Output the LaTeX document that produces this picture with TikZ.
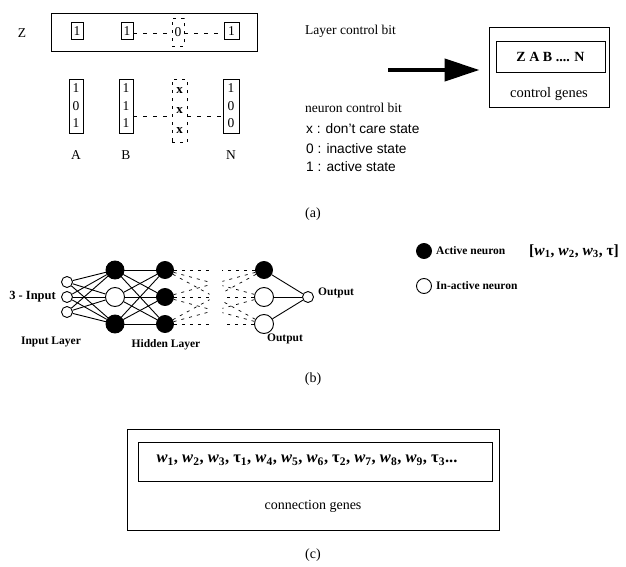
\documentclass[tikz,border=0pt]{standalone}
\usepackage{fontspec}
\setmainfont{Liberation Serif}
\setsansfont{Liberation Sans}
\usetikzlibrary{arrows.meta,calc,backgrounds}
\newcommand\wsym[1]{\textit{w}\textsubscript{#1}}
\newcommand\tsym[1]{τ\textsubscript{#1}}
\begin{document}
\begin{tikzpicture}[x=1pt,y=-1pt,
  lw/.style={line width=0.9pt},
  bitbox/.style={draw,lw,minimum width=12pt,minimum height=17pt,inner sep=0pt,font=\fontsize{13.5}{13.5}\selectfont},
  dbitbox/.style={bitbox,dash pattern=on 3pt off 5pt},
  colbox/.style={draw,lw,minimum width=14pt,minimum height=54pt,inner sep=0pt,align=center,font=\fontsize{13.5}{17.5}\selectfont},
  dcolbox/.style={colbox,dash pattern=on 3pt off 5pt,font=\bfseries\fontsize{13}{20}\selectfont},
  serlbl/.style={font=\fontsize{13.5}{13.5}\selectfont,inner sep=0pt},
  sanslbl/.style={font=\sffamily\fontsize{13.7}{13.7}\selectfont,inner sep=0pt,anchor=west},
  smallbold/.style={font=\bfseries\fontsize{11.5}{11.5}\selectfont,inner sep=0pt},
  dline/.style={lw,dash pattern=on 4pt off 6pt},
  actn/.style={circle,draw,lw,fill=black,inner sep=0pt},
  inactn/.style={circle,draw,lw,fill=white,inner sep=0pt},
  netedge/.style={line width=0.9pt},
  fanline/.style={line width=0.7pt,dash pattern=on 3pt off 5pt},
  bigbox/.style={draw,lw,inner sep=0pt},
  captxt/.style={font=\fontsize{14}{14}\selectfont,inner sep=0pt}
]
\useasboundingbox (0,0) rectangle (626,567);

% ---------- (a) ----------
\node[serlbl] (zl) at (22,33) {Z};
\node[bigbox,minimum width=206pt,minimum height=38pt] (zrow) at (154.5,32.5) {};
\node[bitbox] (z1) at (77,31) {1};
\node[bitbox] (z2) at (127,31) {1};
\node[dbitbox,minimum height=28pt] (z3) at (178,32.5) {0};
\node[bitbox,minimum width=15pt] (z4) at (231.5,31) {1};
\draw[dline] (z2.east |- 0,33) -- (z3.west |- 0,33);
\draw[dline] (z3.east |- 0,33) -- (z4.west |- 0,33);

\node[colbox] (ca) at (76,106) {1\\0\\1};
\node[colbox] (cb) at (126,106) {1\\1\\1};
\node[dcolbox,minimum width=15pt,minimum height=63pt] (cx) at (179.5,111) {x\\x\\x};
\node[colbox,minimum width=16pt] (cn) at (231,106) {1\\0\\0};
\draw[dline] (cb.east |- 0,116) -- (cx.west |- 0,116);
\draw[dline] (cx.east |- 0,116) -- (cn.west |- 0,116);
\node[serlbl] (la) at (76,155) {A};
\node[serlbl] (lb) at (126,155) {B};
\node[serlbl] (ln) at (231,155) {N};

\node[serlbl,anchor=west] (lcb) at (305,31) {Layer control bit};
\node[serlbl,anchor=west] (ncb) at (305,108) {neuron control bit};
\node[sanslbl] (s1) at (306,129) {x : don't care state};
\node[sanslbl] (s2) at (306,149) {0 : inactive state};
\node[sanslbl] (s3) at (306,167) {1 : active state};

\node[bigbox,minimum width=120pt,minimum height=80pt] (cg) at (549,67) {};
\node[bigbox,minimum width=109pt,minimum height=31pt,font=\bfseries\fontsize{14}{14}\selectfont] (cgi) at (550.5,56.5) {Z A B .... N};
\node[font=\fontsize{14.5}{14.5}\selectfont,inner sep=0pt] (cgl) at (549,94) {control genes};
\coordinate (arrs) at (388,70);
\draw[line width=4pt,-{Triangle[length=35pt,width=22pt]},shorten >=9pt] (arrs) -- (cg.west |- arrs);

\node[captxt] (capa) at (313,214) {(a)};

% ---------- (b) ----------
\node[inactn,minimum size=11pt] (i1) at (67,282) {};
\node[inactn,minimum size=11pt] (i2) at (67,297) {};
\node[inactn,minimum size=11pt] (i3) at (67,312) {};
\node[actn,minimum size=18pt] (h1) at (115,270) {};
\node[inactn,minimum size=19pt] (h2) at (115,297) {};
\node[actn,minimum size=18pt] (h3) at (115,324) {};
\node[actn,minimum size=17pt] (g1) at (165,270) {};
\node[actn,minimum size=17pt] (g2) at (165,297) {};
\node[actn,minimum size=17pt] (g3) at (165,324) {};
\node[actn,minimum size=17pt] (k1) at (264,270) {};
\node[inactn,minimum size=19pt] (k2) at (264,297) {};
\node[inactn,minimum size=19pt] (k3) at (264,324) {};
\node[inactn,minimum size=11pt] (o1) at (308,297) {};

\begin{scope}[on background layer]
\foreach \a in {i1,i2,i3}{\foreach \b in {h1,h2,h3}{\draw[netedge] (\a) -- (\b);}}
\foreach \a in {h1,h2,h3}{\foreach \b in {g1,g2,g3}{\draw[netedge] (\a) -- (\b);}}
\foreach \a in {g1,g2,g3}{\foreach \b in {k1,k2,k3}{
  \draw[fanline] (\a) -- ($(\a)!0.45!(\b)$);
  \draw[fanline] (\b) -- ($(\b)!0.42!(\a)$);}}
\foreach \a in {k1,k2,k3}{\draw[netedge] (\a) -- (o1);}
\end{scope}

\node[smallbold,anchor=east,font=\bfseries\fontsize{12.5}{12.5}\selectfont] (inl) at (56,297) {3 - Input};
\node[smallbold,anchor=west] (outl) at (318,293) {Output};
\node[smallbold] (ill) at (51,342) {Input Layer};
\node[smallbold] (hll) at (166,345) {Hidden Layer};
\node[smallbold] (oll) at (285,339) {Output};

\node[actn,minimum size=15pt] (lg1) at (424,251) {};
\node[smallbold,anchor=west] (lgt1) at (436,251) {Active neuron};
\node[inner sep=0pt,anchor=west,font=\bfseries\fontsize{15.5}{15.5}\selectfont] (lgw) at (529,251) {[\wsym{1}, \wsym{2}, \wsym{3}, τ]};
\node[inactn,minimum size=15pt] (lg2) at (424,286) {};
\node[smallbold,anchor=west] (lgt2) at (436,286) {In-active neuron};

\node[captxt] (capb) at (313,379) {(b)};

% ---------- (c) ----------
\node[bigbox,minimum width=372pt,minimum height=101pt] (cc) at (313,479.5) {};
\node[bigbox,minimum width=354pt,minimum height=39pt] (cci) at (315,461.5) {};
\node[inner sep=0pt,font=\bfseries\fontsize{16.5}{16.5}\selectfont] (cct) at (307,460) {\wsym{1}, \wsym{2}, \wsym{3}, \tsym{1}, \wsym{4}, \wsym{5}, \wsym{6}, \tsym{2}, \wsym{7}, \wsym{8}, \wsym{9}, \tsym{3}...};
\node[font=\fontsize{14}{14}\selectfont,inner sep=0pt] (ccl) at (313,506) {connection genes};
\node[captxt] (capc) at (313,555) {(c)};
\end{tikzpicture}
\end{document}
